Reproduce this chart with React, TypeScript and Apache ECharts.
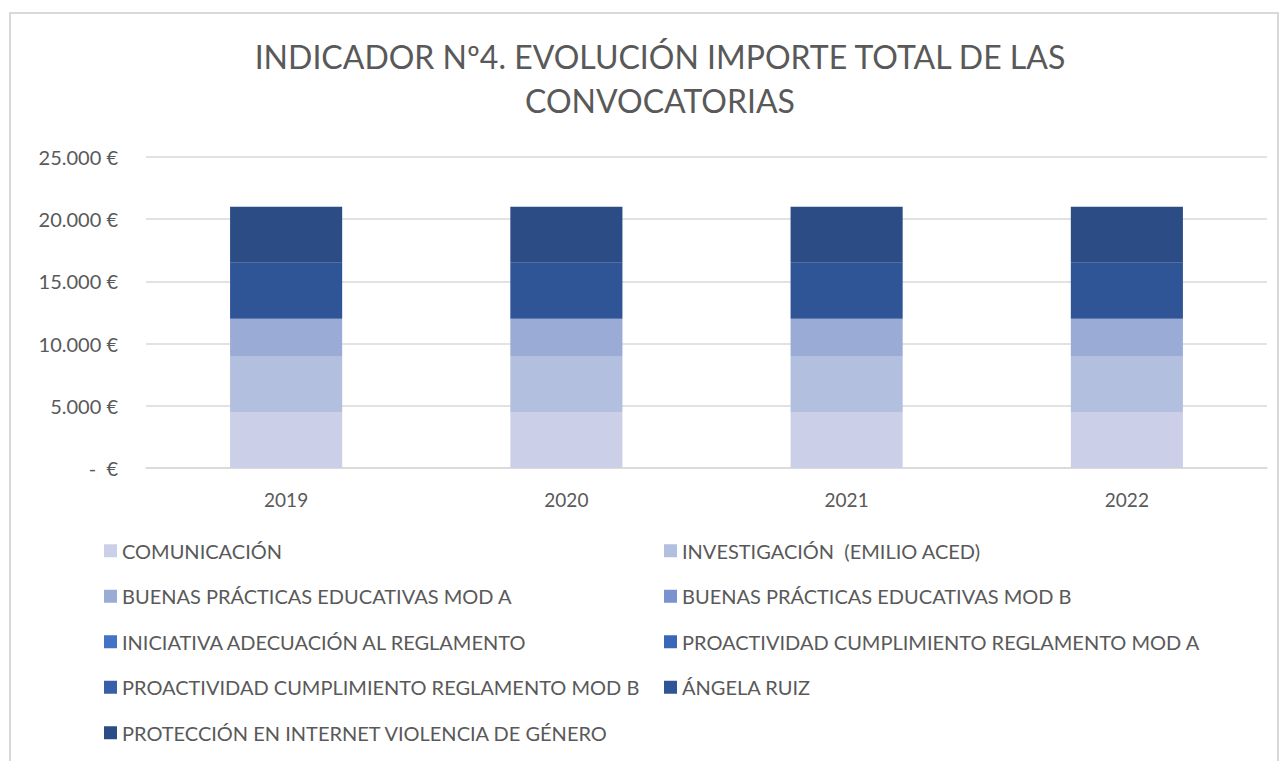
import React, { useEffect, useRef } from "react";
import * as echarts from "echarts";

const years = ["2019", "2020", "2021", "2022"];
const seriesNames = [
  "COMUNICACIÓN",
  "INVESTIGACIÓN  (EMILIO ACED)",
  "BUENAS PRÁCTICAS EDUCATIVAS MOD A",
  "BUENAS PRÁCTICAS EDUCATIVAS MOD B",
  "INICIATIVA ADECUACIÓN AL REGLAMENTO",
  "PROACTIVIDAD CUMPLIMIENTO REGLAMENTO MOD A",
  "PROACTIVIDAD CUMPLIMIENTO REGLAMENTO MOD B",
  "ÁNGELA RUIZ",
  "PROTECCIÓN EN INTERNET VIOLENCIA DE GÉNERO",
];
const comunicacion = [4500, 4500, 4500, 4500];
const investigacion = [4500, 4500, 4500, 4500];
const buenasA = [3000, 3000, 3000, 3000];
const buenasB = [0, 0, 0, 0];
const iniciativa = [0, 0, 0, 0];
const proactA = [0, 0, 0, 0];
const proactB = [0, 0, 0, 0];
const angela = [4500, 4500, 4500, 4500];
const proteccion = [4500, 4500, 4500, 4500];
const seriesValues = [comunicacion, investigacion, buenasA, buenasB, iniciativa, proactA, proactB, angela, proteccion];
const colors = ["#CBD0E8", "#B3BFDF", "#9AABD6", "#7A93CF", "#4472C4", "#3B67B9", "#3A5FA9", "#2F5597", "#2C4C85"];

const FONT = "Lato";

function fmt(v: number) {
  if (v === 0) return "-  €";
  return v.toLocaleString("de-DE").replace(/,/g, ".") + " €";
}

export default function App() {
  const ref = useRef<HTMLDivElement>(null);
  useEffect(() => {
    const chart = echarts.init(ref.current!, null, { renderer: "svg" });
    chart.setOption({
      animation: false,
      backgroundColor: "#fff",
      color: colors,
      title: {
        text: "INDICADOR Nº4. EVOLUCIÓN IMPORTE TOTAL DE LAS\nCONVOCATORIAS",
        left: 655,
        textAlign: "center",
        top: 29,
        textStyle: { fontFamily: FONT, fontSize: 32, fontWeight: "normal", color: "#595959", lineHeight: 44 },
      },
      graphic: [
        {
          type: "rect",
          shape: { x: 10, y: 13, width: 1268, height: 760 },
          style: { fill: "none", stroke: "#D9D9D9", lineWidth: 2 },
          silent: true,
        },
      ],
      grid: { left: 146, right: 18, top: 157, bottom: 293, containLabel: false },
      xAxis: {
        type: "category",
        data: years,
        axisLine: { lineStyle: { color: "#D9D9D9", width: 1.5 } },
        axisTick: { show: false },
        axisLabel: { fontFamily: FONT, fontSize: 19, color: "#595959", margin: 22 },
      },
      yAxis: {
        type: "value",
        min: 0,
        max: 25000,
        interval: 5000,
        axisLine: { show: false },
        axisTick: { show: false },
        splitLine: { lineStyle: { color: "#D9D9D9", width: 1.5 } },
        axisLabel: { fontFamily: FONT, fontSize: 20, color: "#595959", margin: 28, formatter: (v: number) => fmt(v) },
      },
      legend: {
        left: 99,
        top: 533,
        width: 1150,
        icon: "rect",
        itemWidth: 13,
        itemHeight: 13,
        itemGap: 20,
        data: seriesNames,
        selectedMode: false,
        textStyle: { fontFamily: FONT, fontSize: 20, color: "#595959", width: 522, lineHeight: 25.5, padding: [0, 0, 0, 0] },
      },
      series: seriesNames.map((name, i) => ({
        name,
        type: "bar",
        stack: "total",
        barCategoryGap: "60%",
        data: seriesValues[i],
        itemStyle: { color: colors[i] },
      })),
    });
    return () => chart.dispose();
  }, []);
  return <div ref={ref} style={{ position: "absolute", left: 0, top: 0, width: 1285, height: 761 }} />;
}
